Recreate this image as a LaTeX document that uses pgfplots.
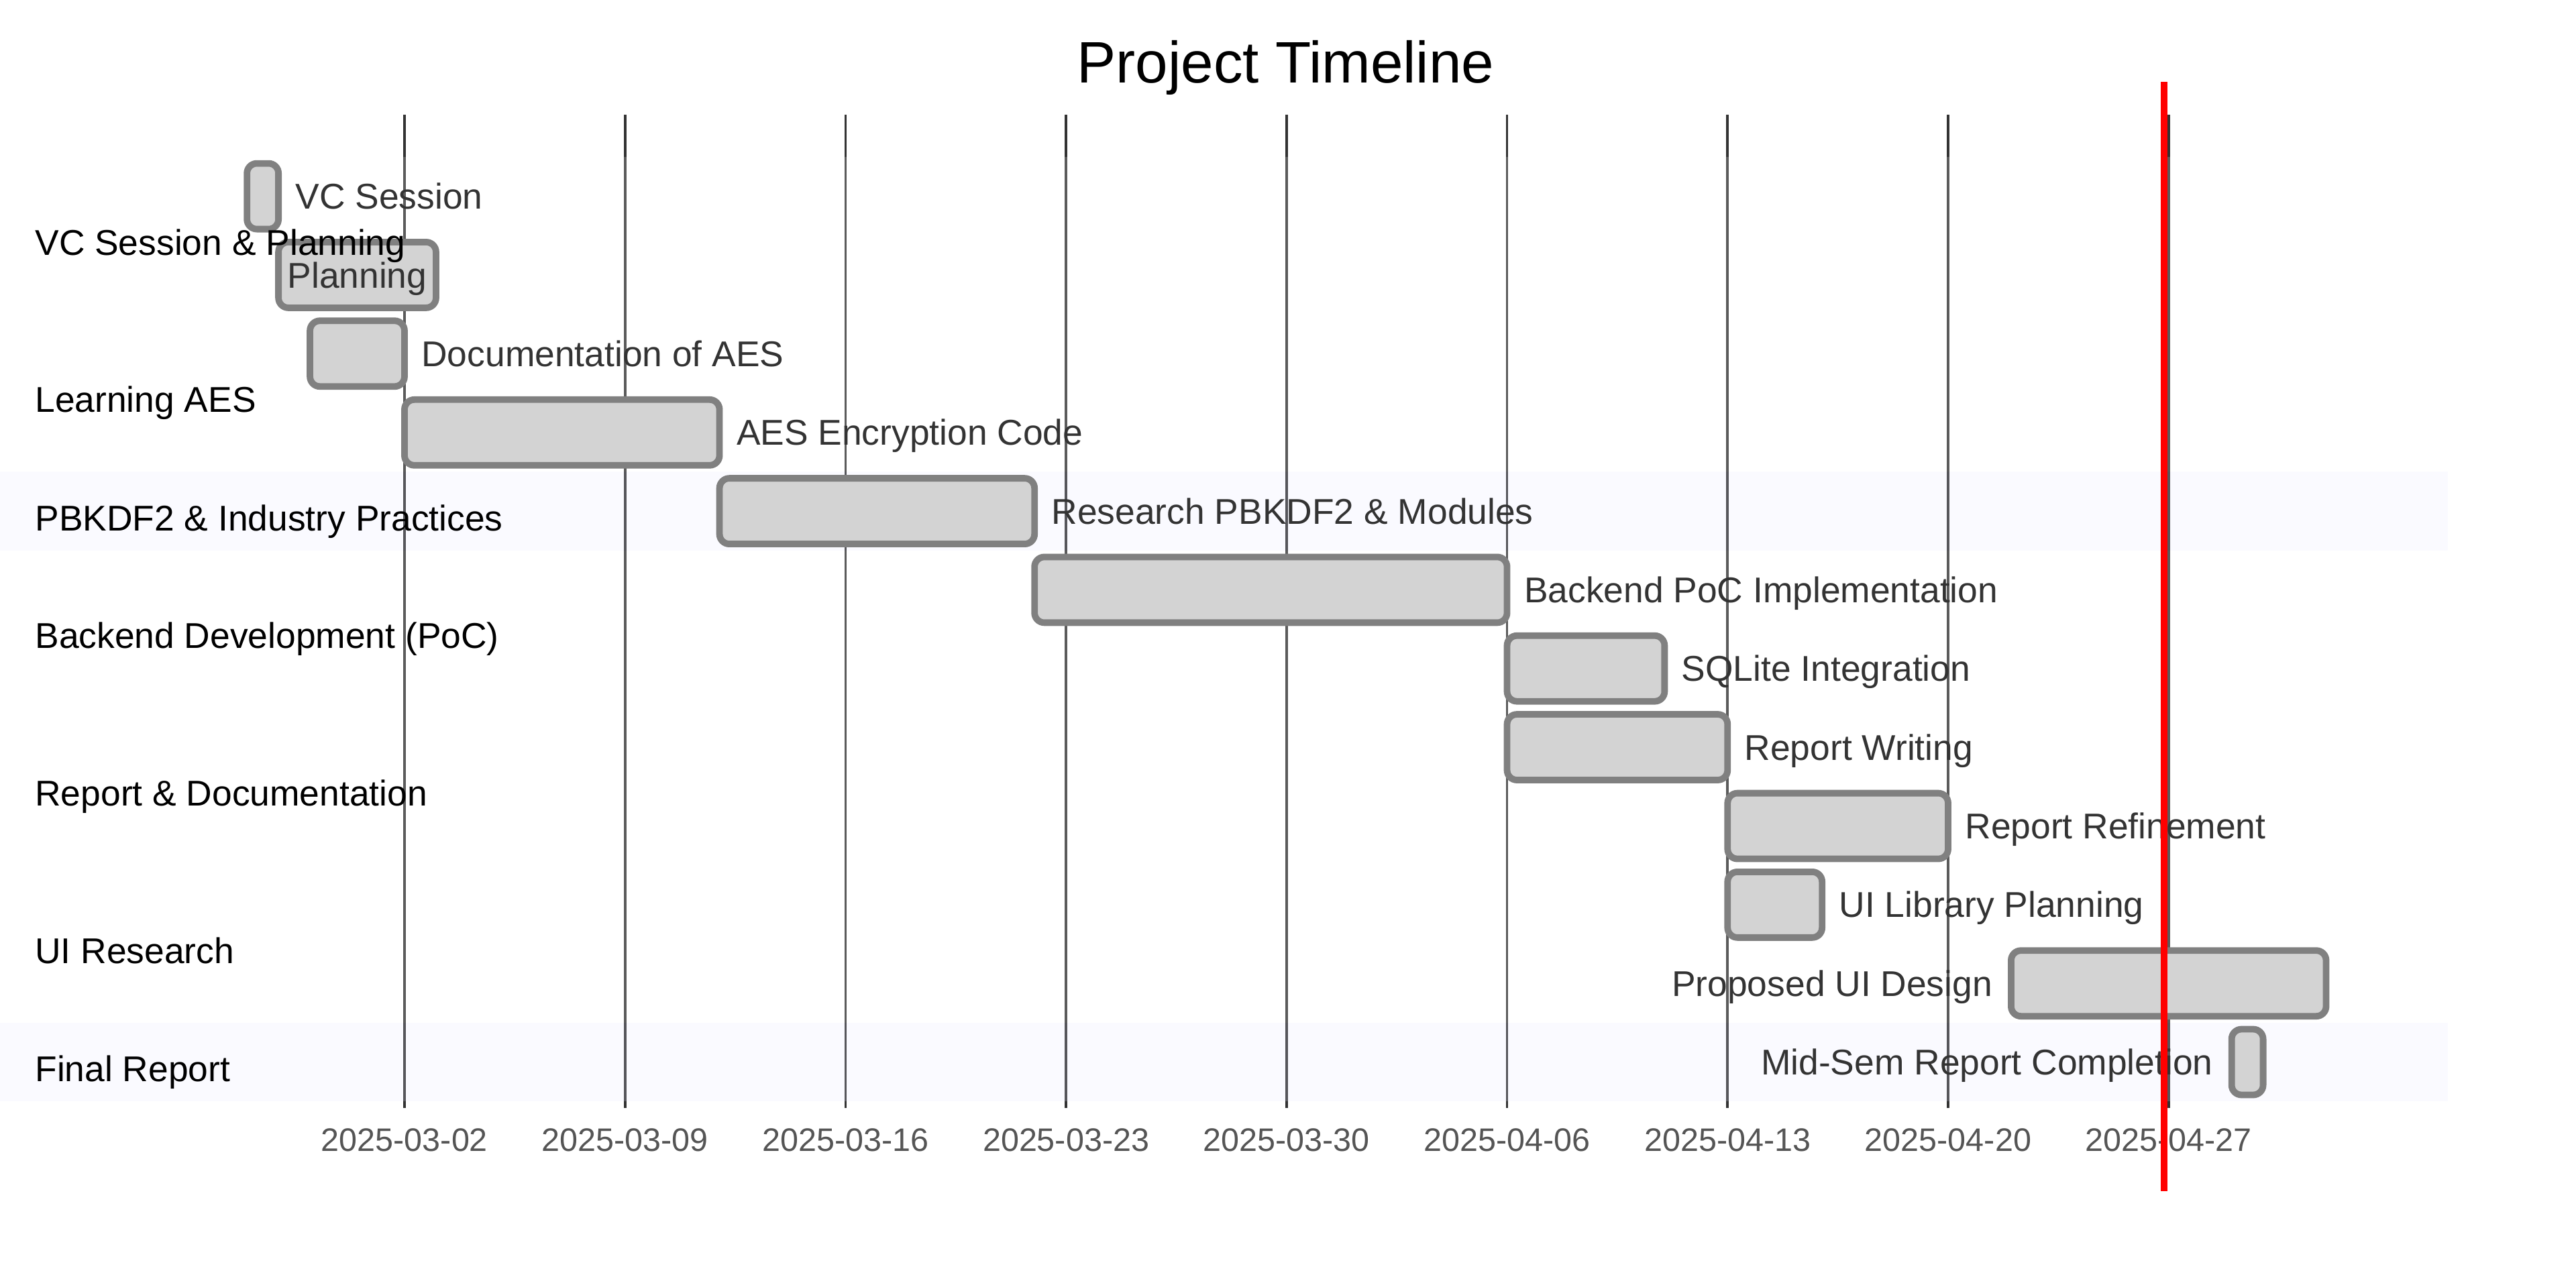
\documentclass[border=0pt]{standalone}
\usepackage{fontspec}
\setmainfont{Liberation Sans}
\usepackage{pgfplots}
\usepackage{pgfplotstable}
\pgfplotsset{compat=1.18}
\definecolor{barfill}{HTML}{D3D3D3}
\definecolor{barline}{HTML}{808080}
\definecolor{gridc}{HTML}{333333}
\definecolor{lav}{HTML}{E6E6FF}
\definecolor{textc}{HTML}{333333}
\definecolor{tickc}{HTML}{555555}
% x = days since 2025-02-01 ; y = row position (display units from bottom)
\pgfplotstableread{
row   start dur
656.5 24 1
608.6 25 5
560.7 26 3
512.7 29 10
464.8 39 10
416.9 49 15
369.0 64 5
321.1 64 7
273.1 71 7
225.2 71 3
177.3 80 10
129.4 87 1
}\tasks
\pgfplotsset{common/.style={
  scale only axis, width=784pt, height=388pt,
  xmin=16.16, xmax=97.933, ymin=0, ymax=776,
  clip=false}}
\begin{document}
\begin{tikzpicture}[
  tl/.style={font=\fontsize{10.9pt}{13pt}\selectfont, text=textc, inner sep=0pt, text height=7.8pt, text depth=0pt}]
% background: grid and section bands
\begin{axis}[common, hide axis]
\pgfplotsinvokeforeach{29,36,43,50,57,64,71,78,85}{
  \addplot[gridc, line width=0.75pt, forget plot] coordinates {(#1,101.5) (#1,706)};
}
\addplot[draw=none, fill=white, fill opacity=0.2, forget plot] coordinates {(16.16,680.5) (93.87,680.5) (93.87,488.8) (16.16,488.8)} --cycle;
\addplot[draw=none, fill=lav, fill opacity=0.2, forget plot] coordinates {(16.16,488.8) (93.87,488.8) (93.87,440.9) (16.16,440.9)} --cycle;
\addplot[draw=none, fill=white, fill opacity=0.2, forget plot] coordinates {(16.16,440.9) (93.87,440.9) (93.87,153.3) (16.16,153.3)} --cycle;
\addplot[draw=none, fill=lav, fill opacity=0.2, forget plot] coordinates {(16.16,153.3) (93.87,153.3) (93.87,105.4) (16.16,105.4)} --cycle;
\end{axis}
% task bars (start invisible, duration visible)
\begin{axis}[common, hide axis, xbar stacked, bar width=40]
\addplot[overlay, draw=none, fill=none] table[x=start, y=row] {\tasks};
\addplot[fill=barfill, draw=barline, line width=2pt, rounded corners=3pt] table[x=dur, y=row] {\tasks};
\end{axis}
% labels, ticks and today line on top
\begin{axis}[
  common,
  axis line style={draw=none},
  tick style={draw=none}, major tick length=0pt,
  xtick={29,36,43,50,57,64,71,78,85},
  xticklabels={2025-03-02,2025-03-09,2025-03-16,2025-03-23,2025-03-30,2025-04-06,2025-04-13,2025-04-20,2025-04-27},
  xticklabel style={anchor=center, yshift=41pt, font=\fontsize{9.9pt}{12pt}\selectfont, text=tickc, inner sep=0pt},
  ytick={628.5,532.7,460.8,389.0,293.1,197.2,125.4},
  yticklabels={VC Session \& Planning,Learning AES,PBKDF2 \& Industry Practices,Backend Development (PoC),Report \& Documentation,UI Research,Final Report},
  yticklabel style={anchor=west, xshift=10.5pt, font=\fontsize{10.9pt}{13pt}\selectfont, text=black, inner sep=0pt, text height=7.8pt, text depth=0pt},
]
\node[tl, anchor=west, xshift=5pt] at (axis cs:25,656.5) {VC Session};
\node[tl, anchor=center] at (axis cs:27.5,608.6) {Planning};
\node[tl, anchor=west, xshift=5pt] at (axis cs:29,560.7) {Documentation of AES};
\node[tl, anchor=west, xshift=5pt] at (axis cs:39,512.7) {AES Encryption Code};
\node[tl, anchor=west, xshift=5pt] at (axis cs:49,464.8) {Research PBKDF2 \& Modules};
\node[tl, anchor=west, xshift=5pt] at (axis cs:64,416.9) {Backend PoC Implementation};
\node[tl, anchor=west, xshift=5pt] at (axis cs:69,369.0) {SQLite Integration};
\node[tl, anchor=west, xshift=5pt] at (axis cs:71,321.1) {Report Writing};
\node[tl, anchor=west, xshift=5pt] at (axis cs:78,273.1) {Report Refinement};
\node[tl, anchor=west, xshift=5pt] at (axis cs:74,225.2) {UI Library Planning};
\node[tl, anchor=east, xshift=-5.5pt] at (axis cs:80,177.3) {Proposed UI Design};
\node[tl, anchor=east, xshift=-5.5pt] at (axis cs:87,129.4) {Mid-Sem Report Completion};
\node[font=\fontsize{17.8pt}{21pt}\selectfont, text=black, inner sep=0pt, text height=12.75pt, text depth=0pt, anchor=center] at (axis cs:56.97,738.5) {Project Timeline};
\addplot[color=red, line width=2pt, forget plot] coordinates {(84.85,51) (84.85,726)};
\end{axis}
\end{tikzpicture}
\end{document}
